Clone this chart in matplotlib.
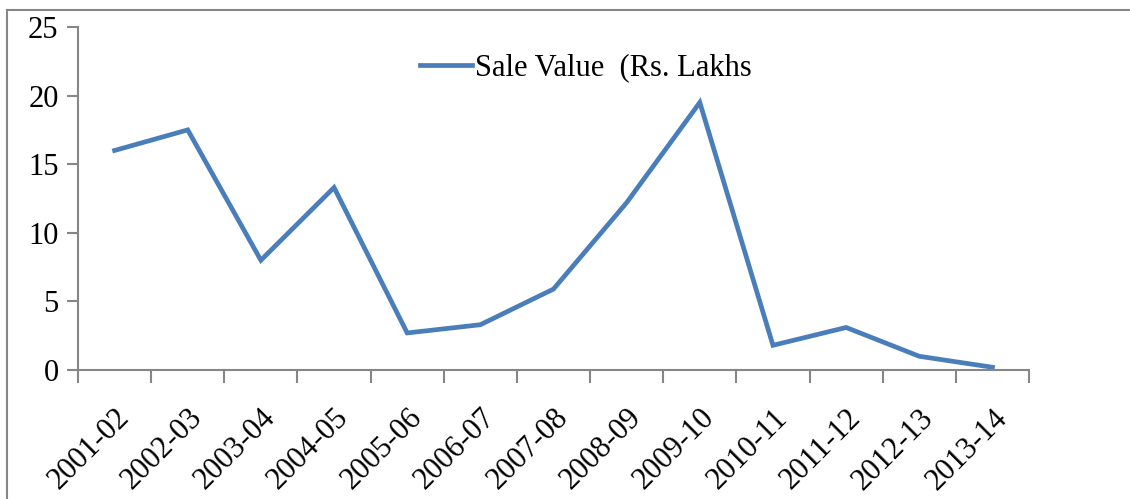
import matplotlib
matplotlib.use("Agg")
import matplotlib.pyplot as plt
from matplotlib.lines import Line2D
import numpy as np

years = ["2001-02", "2002-03", "2003-04", "2004-05", "2005-06", "2006-07", "2007-08",
         "2008-09", "2009-10", "2010-11", "2011-12", "2012-13", "2013-14"]
sale_value = [16.0, 17.5, 8.0, 13.3, 2.7, 3.3, 5.9, 12.2, 19.5, 1.8, 3.1, 1.0, 0.2]
yticks = [0, 5, 10, 15, 20, 25]

plt.rcParams['font.family'] = ['Liberation Serif', 'DejaVu Serif']
axis_gray = '#868686'
fs = 22

fig = plt.figure(figsize=(11.3, 4.99), dpi=100)
ax = fig.add_axes([78/1130, 1 - 370/499, (1029 - 78)/1130, (370 - 27)/499])

x = np.arange(len(years))
ax.plot(x, sale_value, color='#4a7ebb', linewidth=3.4, solid_joinstyle='miter',
        label='Sale Value  (Rs. Lakhs')

ax.set_xlim(-0.5, len(years) - 0.5)
ax.set_ylim(0, 25)
ax.set_yticks(yticks)
ax.set_yticklabels([str(t) for t in yticks])

# category boundary ticks
ax.set_xticks(np.arange(len(years) + 1) - 0.5)
ax.set_xticklabels([])
ax.set_xticks(x, minor=True)
ax.set_xticklabels(years, minor=True, rotation=45, ha='right', rotation_mode='anchor')
ax.tick_params(axis='x', which='minor', length=0, pad=24, labelsize=fs)
ax.tick_params(axis='x', which='major', length=9, width=1.5, color=axis_gray, direction='out')
ax.tick_params(axis='y', length=8, width=1.5, color=axis_gray, direction='out', pad=6, labelsize=fs)

for s in ['top', 'right']:
    ax.spines[s].set_visible(False)
for s in ['left', 'bottom']:
    ax.spines[s].set_color(axis_gray)
    ax.spines[s].set_linewidth(1.5)

ax.legend(loc='center left', bbox_to_anchor=(420/1130, 1 - 68/499), bbox_transform=fig.transFigure,
          frameon=False, fontsize=fs, handlelength=1.7, handletextpad=0.1, borderpad=0, borderaxespad=0)

# chart area border (cropped at right and bottom)
fig.add_artist(Line2D([7/1130, 7/1130], [0, 1 - 10/499], transform=fig.transFigure,
                      color=axis_gray, linewidth=1.5))
fig.add_artist(Line2D([7/1130, 1], [1 - 10/499, 1 - 10/499], transform=fig.transFigure,
                      color=axis_gray, linewidth=1.5))

fig.savefig('out.png', dpi=100)
